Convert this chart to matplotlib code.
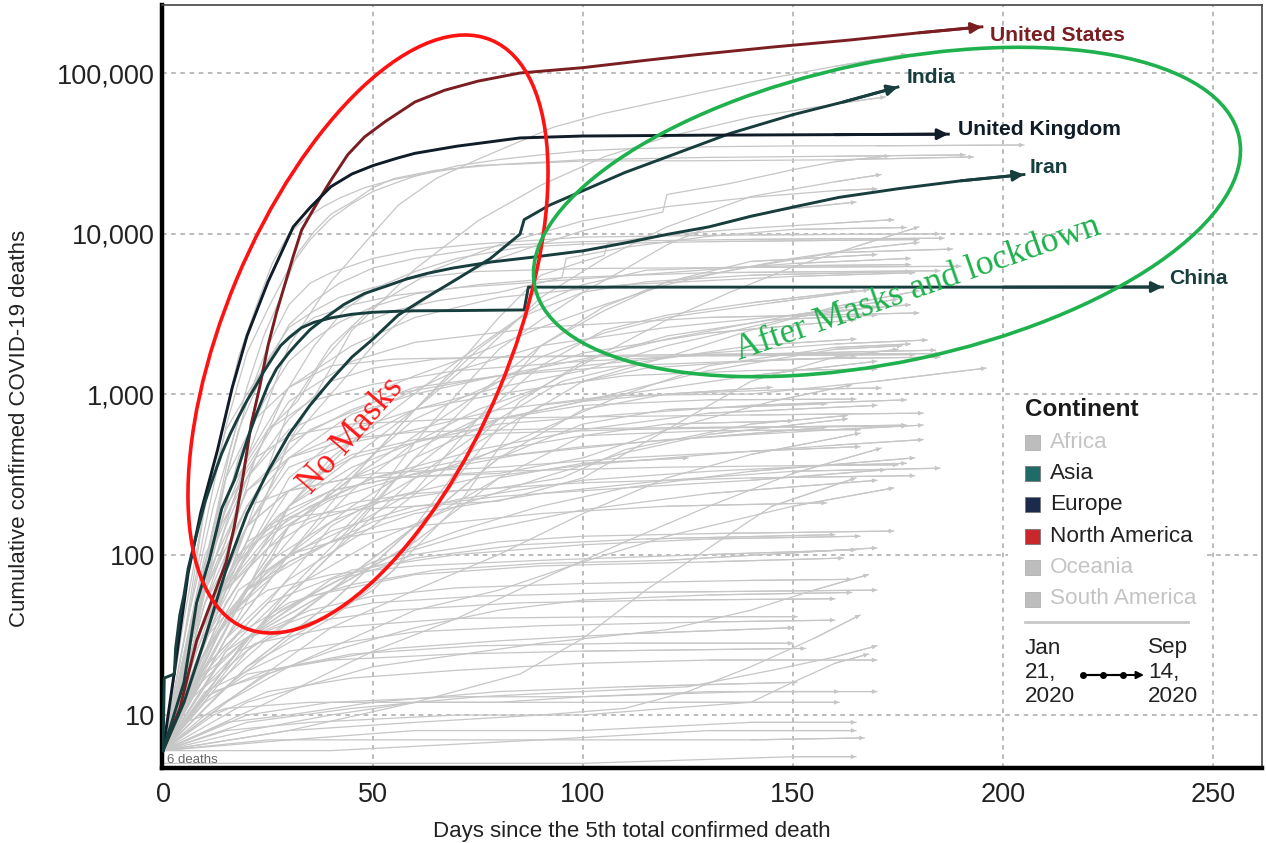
import matplotlib
matplotlib.use('Agg')
import matplotlib.pyplot as plt
from matplotlib.patches import Ellipse, Rectangle
from matplotlib.lines import Line2D
from matplotlib.ticker import FixedLocator, FuncFormatter, NullLocator

plt.rcParams['font.family'] = ['Liberation Sans', 'DejaVu Sans']

# ---- highlighted countries (day since 5th death, cumulative deaths) ----
us_days = [0, 4, 8, 12, 15, 17, 19, 21, 23, 25, 27, 29, 31, 33, 35, 37, 40, 44, 48, 53, 60, 67, 75, 85, 100, 115, 127, 145, 163, 180, 195]
us_vals = [6, 11, 29, 55, 89, 150, 300, 650, 1100, 2000, 3200, 4800, 7200, 10500, 13000, 16000, 21500, 31000, 40000, 50000, 66000, 78000, 89000, 100000, 108000, 120000, 130000, 145000, 160000, 178000, 194000]

uk_days = [0, 3, 6, 9, 13, 16.5, 20, 25, 31, 35, 40, 45, 50, 56, 60, 70, 85, 100, 130, 160, 187]
uk_vals = [6, 21, 77, 183, 450, 1100, 2300, 5000, 11000, 14500, 19600, 23500, 26500, 29600, 31600, 35000, 39400, 40500, 41000, 41300, 41600]

china_days = [0, 0.3, 2.7, 3, 4, 5, 6, 8, 10, 12, 14, 16, 18, 20, 22, 24, 26, 28, 30, 33, 36, 40, 45, 50, 55, 60, 70, 80, 86, 87, 120, 160, 200, 238]
china_vals = [6, 17, 18, 26, 42, 56, 82, 133, 213, 304, 427, 564, 723, 910, 1113, 1380, 1665, 2000, 2240, 2590, 2800, 2980, 3140, 3230, 3270, 3300, 3310, 3330, 3340, 4632, 4634, 4634, 4634, 4640]

iran_days = [0, 5, 8, 11, 14, 17, 20, 22, 25, 27, 30, 32, 35, 38, 43, 48, 53, 58, 63, 69, 78, 88, 100, 110, 120, 130, 140, 150, 161, 175, 190, 205]
iran_vals = [6, 16, 50, 92, 194, 291, 514, 724, 1135, 1433, 1812, 2077, 2517, 2898, 3603, 4232, 4683, 5209, 5650, 6091, 6640, 7119, 7797, 8730, 9870, 11000, 12800, 14600, 16800, 19000, 21300, 23300]

india_days = [0, 5, 10, 15, 20, 25, 30, 35, 40, 45, 50, 56, 62, 70, 78, 85, 86, 92, 99, 110, 120, 135, 150, 162, 175]
india_vals = [6, 12, 30, 80, 180, 330, 560, 850, 1220, 1700, 2200, 3100, 3900, 5200, 7000, 9900, 12200, 15000, 18000, 24000, 30000, 42000, 55000, 66000, 81800]

# ---- other countries (grey) ----
gray_series = [
    # larger epidemics
    [(0, 6), (10, 60), (20, 400), (30, 2000), (40, 5000), (50, 10000), (56, 15000), (65, 22000), (75, 29000), (93, 46000), (105, 56000), (120, 68000), (140, 88000), (160, 110000), (177, 131000)],
    [(0, 6), (15, 60), (30, 500), (45, 2500), (60, 6000), (75, 12000), (90, 20000), (105, 30000), (120, 40000), (140, 53000), (160, 64000), (172, 71000)],
    [(0, 6), (5, 29), (10, 148), (15, 631), (20, 1809), (25, 3405), (30, 6077), (35, 9134), (40, 12428), (45, 15362), (50, 18279), (55, 20465), (60, 22745), (70, 26384), (80, 28884), (90, 30911), (100, 32735), (110, 33689), (130, 34744), (150, 35123), (170, 35205), (205, 35600)],
    [(0, 6), (5, 40), (10, 200), (14, 600), (18, 1700), (22, 3400), (26, 6500), (30, 10000), (34, 12400), (38, 14600), (42, 16600), (48, 19300), (55, 21700), (65, 24300), (75, 26600), (85, 27100), (100, 28300), (130, 28400), (160, 28800), (193, 30000)],
    [(0, 6), (6, 30), (12, 150), (16, 450), (20, 1100), (24, 2300), (28, 4000), (32, 7500), (36, 10300), (40, 13200), (45, 15700), (50, 19300), (55, 22000), (65, 24800), (80, 26900), (100, 28800), (130, 29800), (160, 30300), (191, 30900)],
    [(0, 6), (10, 40), (20, 120), (30, 500), (40, 1000), (50, 2000), (60, 3500), (70, 5300), (80, 7000), (90, 8600), (100, 10400), (110, 12000), (119, 13600), (120, 17500), (135, 20500), (150, 25000), (160, 28000), (173, 30500)],
    [(0, 6), (15, 50), (30, 200), (45, 400), (60, 800), (75, 1700), (90, 4000), (105, 7000), (120, 11000), (140, 17000), (160, 21000), (171, 23300)],
    [(0, 6), (10, 30), (20, 150), (30, 800), (40, 2000), (50, 3500), (65, 6000), (80, 8500), (100, 12000), (120, 14700), (140, 16800), (160, 18500), (170, 19000)],
    [(0, 6), (10, 30), (20, 60), (30, 90), (40, 120), (50, 220), (60, 500), (70, 1000), (80, 1900), (90, 2900), (100, 4300), (110, 6000), (120, 8500), (130, 11000), (140, 13000), (150, 14300), (165, 15700)],
    [(0, 6), (15, 40), (30, 150), (45, 300), (60, 800), (70, 1500), (80, 3000), (90, 5500), (100, 6700), (105, 7300), (106, 8800), (120, 9800), (140, 10800), (160, 11600), (174, 12200)],
    [(0, 6), (15, 40), (30, 150), (45, 300), (60, 450), (75, 700), (90, 1100), (105, 1800), (120, 2900), (135, 4300), (150, 6200), (165, 8300), (180, 11000)],
    [(0, 6), (8, 40), (15, 300), (20, 900), (25, 2000), (30, 3600), (35, 4900), (40, 5700), (50, 7000), (60, 7900), (75, 8600), (100, 9500), (140, 9800), (185, 9950)],
    [(0, 6), (6, 30), (12, 150), (18, 600), (24, 1400), (30, 2700), (36, 3800), (42, 4900), (50, 6100), (60, 7000), (80, 8400), (100, 8900), (140, 9200), (186, 9350)],
    [(0, 6), (6, 40), (12, 200), (18, 700), (24, 1500), (30, 2600), (36, 3300), (42, 4000), (50, 4600), (60, 5300), (75, 5800), (100, 6050), (140, 6150), (190, 6250)],
    [(0, 6), (8, 20), (15, 100), (22, 400), (29, 1000), (36, 2000), (43, 3300), (50, 4500), (60, 5800), (70, 7000), (85, 8200), (100, 8600), (130, 8900), (180, 9170)],
    [(0, 6), (6, 20), (12, 100), (18, 400), (24, 900), (30, 1600), (36, 2200), (42, 2800), (50, 3500), (60, 4200), (75, 4800), (95, 5300), (130, 5700), (185, 5860)],
    [(0, 6), (5, 30), (10, 200), (15, 600), (20, 1000), (25, 1600), (30, 2300), (36, 3000), (45, 3600), (55, 4100), (70, 4600), (90, 5000), (120, 5700), (150, 6500), (178, 7000)],
    [(0, 6), (5, 20), (10, 60), (15, 150), (20, 300), (25, 600), (32, 900), (38, 1600), (45, 2600), (55, 3300), (65, 3800), (80, 4300), (95, 5300), (96, 7000), (110, 8200), (130, 9600), (150, 10600), (177, 10900)],
    [(0, 6), (10, 100), (20, 300), (30, 600), (45, 900), (60, 1300), (75, 1800), (90, 2600), (105, 3600), (120, 4800), (135, 5900), (150, 7000), (165, 8000), (180, 8800)],
    [(0, 6), (15, 30), (30, 100), (45, 300), (60, 800), (75, 1900), (90, 3700), (100, 4800), (115, 5900), (130, 6100), (150, 6300), (178, 6400)],
    [(0, 6), (15, 25), (30, 60), (45, 150), (60, 400), (75, 1000), (90, 2000), (105, 3300), (120, 5000), (140, 6700), (170, 7400)],
    [(0, 6), (10, 20), (20, 60), (30, 200), (40, 400), (55, 800), (70, 1600), (85, 3000), (100, 4300), (115, 5000), (140, 5500), (178, 5800)],
    [(0, 6), (10, 20), (20, 60), (30, 100), (45, 150), (60, 250), (75, 700), (90, 2000), (105, 3500), (120, 5000), (140, 6200), (160, 7600), (188, 8000)],
    # middle group
    [(0, 6), (15, 50), (30, 200), (45, 500), (60, 800), (80, 1100), (100, 1400), (120, 2000), (150, 3000), (170, 3500)],
    [(0, 6), (20, 30), (40, 60), (60, 150), (75, 500), (90, 850), (110, 980), (140, 1000), (170, 1200), (196, 1450)],
    [(0, 6), (10, 30), (20, 150), (30, 350), (45, 500), (60, 600), (80, 800), (110, 1000), (140, 1300), (170, 1600)],
    [(0, 6), (10, 60), (20, 200), (30, 400), (45, 600), (60, 800), (80, 1000), (100, 1200), (120, 1700), (140, 2500), (160, 3500), (180, 4400)],
    [(0, 6), (15, 40), (30, 100), (45, 200), (60, 350), (75, 700), (90, 1500), (105, 2500), (120, 3100), (140, 3700), (165, 4400)],
    [(0, 6), (10, 50), (20, 200), (30, 500), (45, 800), (60, 1100), (80, 1300), (100, 1650), (120, 2200), (150, 3100), (175, 3900)],
    [(0, 6), (15, 30), (30, 150), (45, 300), (60, 550), (75, 1000), (90, 1700), (105, 2400), (120, 3000), (145, 3700), (168, 4450)],
    [(0, 6), (10, 50), (20, 300), (30, 700), (40, 1200), (50, 1450), (65, 1650), (90, 1720), (130, 1770), (185, 1784)],
    [(0, 6), (8, 40), (16, 260), (25, 600), (35, 900), (50, 1150), (70, 1400), (100, 1600), (130, 1750), (184, 1875)],
    [(0, 6), (8, 50), (15, 300), (22, 700), (30, 1100), (40, 1500), (55, 1650), (80, 1700), (130, 1730), (179, 1760)],
    [(0, 6), (10, 40), (20, 150), (30, 400), (45, 750), (60, 1000), (80, 1300), (100, 1500), (130, 1800), (160, 2050), (182, 2170)],
    [(0, 6), (20, 20), (40, 40), (55, 80), (70, 300), (85, 900), (100, 1600), (120, 2300), (145, 2900), (170, 3100)],
    [(0, 6), (15, 30), (30, 70), (50, 150), (65, 300), (80, 700), (95, 1200), (115, 1600), (140, 2000), (165, 2200)],
    [(0, 6), (10, 40), (25, 150), (40, 250), (55, 300), (70, 350), (90, 600), (110, 1000), (130, 1500), (160, 1950), (178, 2050)],
    [(0, 6), (10, 50), (20, 150), (30, 250), (45, 400), (60, 500), (80, 700), (100, 900), (130, 1400), (160, 1900), (176, 2000)],
    [(0, 6), (10, 40), (20, 120), (30, 170), (45, 190), (60, 200), (80, 215), (100, 300), (120, 600), (140, 1200), (160, 1700), (175, 1900)],
    [(0, 6), (15, 15), (30, 30), (50, 60), (70, 200), (85, 700), (100, 1200), (115, 1450), (140, 1600), (165, 1700)],
    [(0, 6), (15, 30), (30, 100), (45, 250), (60, 500), (75, 800), (90, 1100), (110, 1300), (140, 1400), (170, 1430)],
    [(0, 6), (8, 50), (15, 200), (22, 400), (30, 550), (45, 650), (70, 700), (100, 720), (140, 740), (181, 760)],
    [(0, 6), (10, 60), (20, 250), (30, 400), (45, 530), (60, 580), (90, 605), (130, 620), (177, 630)],
    [(0, 6), (10, 30), (20, 100), (30, 250), (45, 420), (60, 520), (80, 570), (110, 600), (150, 625), (177, 640)],
    [(0, 6), (10, 30), (20, 80), (30, 150), (45, 210), (60, 240), (80, 260), (95, 300), (110, 450), (140, 650), (163, 735)],
    [(0, 6), (20, 20), (40, 50), (60, 150), (80, 400), (100, 800), (120, 1000), (145, 1100)],
    [(0, 6), (20, 25), (40, 60), (60, 120), (80, 300), (100, 550), (120, 650), (150, 680)],
    [(0, 6), (10, 20), (25, 50), (40, 150), (60, 300), (80, 700), (100, 900), (120, 1000), (150, 1070), (171, 1090)],
    [(0, 6), (20, 20), (40, 50), (60, 150), (80, 400), (100, 650), (120, 800), (158, 870)],
    [(0, 6), (20, 30), (40, 100), (60, 300), (80, 450), (100, 550), (130, 590), (166, 600)],
    [(0, 6), (10, 40), (20, 150), (30, 250), (45, 300), (60, 305), (80, 320), (100, 400), (120, 600), (145, 900), (164, 1140)],
    [(0, 6), (20, 30), (40, 100), (60, 400), (80, 700), (100, 850), (130, 920), (165, 930)],
    [(0, 6), (10, 60), (20, 200), (30, 250), (50, 320), (80, 350), (110, 400), (140, 440), (166, 470)],
    [(0, 6), (20, 30), (40, 60), (60, 150), (80, 300), (100, 370), (125, 400)],
    [(0, 6), (10, 70), (20, 250), (35, 600), (55, 1000), (80, 1300), (110, 1500), (150, 1650), (185, 1700)],
    [(0, 6), (20, 60), (40, 250), (60, 700), (80, 1200), (100, 1800), (130, 2400), (165, 2900)],
    [(0, 6), (15, 60), (30, 300), (50, 800), (70, 1400), (90, 2000), (120, 2600), (160, 3300), (178, 3600)],
    [(0, 6), (10, 80), (20, 350), (30, 900), (45, 1600), (60, 2100), (90, 2600), (130, 3000), (180, 3200)],
    [(0, 6), (10, 90), (20, 400), (30, 1100), (45, 2000), (60, 3000), (80, 4000), (110, 4800), (150, 5400), (179, 5700)],
    # smaller counts
    [(0, 6), (8, 20), (18, 60), (30, 100), (45, 130), (60, 150), (90, 180), (120, 200), (158, 210)],
    [(0, 6), (10, 25), (25, 80), (40, 140), (60, 200), (80, 230), (110, 260), (140, 290), (172, 337)],
    [(0, 6), (12, 15), (25, 30), (40, 60), (55, 100), (70, 140), (90, 200), (110, 260), (140, 330), (179, 400)],
    [(0, 6), (5, 12), (15, 40), (30, 90), (50, 160), (70, 220), (100, 290), (130, 330), (160, 360), (177, 370)],
    [(0, 6), (15, 12), (30, 20), (45, 30), (60, 45), (80, 60), (100, 90), (120, 130), (150, 200), (174, 260)],
    [(0, 6), (10, 18), (20, 30), (35, 45), (50, 55), (70, 62), (100, 66), (140, 69), (164, 70)],
    [(0, 6), (10, 10), (25, 18), (40, 25), (60, 35), (80, 45), (100, 52), (130, 56), (164, 58)],
    [(0, 6), (8, 15), (20, 30), (35, 42), (50, 50), (75, 55), (110, 58), (170, 60)],
    [(0, 6), (20, 8), (40, 10), (60, 12), (80, 12), (100, 13), (130, 14), (161, 14)],
    [(0, 6), (25, 7), (50, 7), (80, 7), (110, 7), (140, 7), (167, 7.2)],
    [(0, 6), (15, 9), (30, 10), (50, 12), (80, 14), (110, 15), (151, 16)],
    [(0, 6), (10, 12), (20, 18), (40, 22), (70, 24), (100, 25), (153, 26)],
    [(0, 6), (12, 14), (30, 20), (55, 26), (80, 29), (110, 32), (150, 35)],
    [(0, 6), (20, 9), (45, 11), (75, 13), (100, 14), (125, 15), (145, 19), (160, 23), (170, 27)],
    [(0, 6), (30, 8), (60, 9), (90, 10), (110, 11), (125, 14), (140, 20), (155, 30), (166, 42)],
    [(0, 6), (10, 20), (25, 50), (45, 80), (70, 100), (100, 115), (130, 125), (166, 130)],
    [(0, 6), (8, 20), (20, 60), (40, 120), (60, 180), (90, 240), (120, 290), (150, 330), (185, 345)],
    [(0, 6), (12, 30), (25, 90), (40, 160), (55, 230), (75, 300), (100, 360), (130, 420), (160, 480), (181, 520)],
    [(0, 6), (10, 40), (20, 110), (35, 200), (50, 300), (70, 380), (100, 470), (130, 540), (158, 620)],
    [(0, 6), (8, 30), (18, 90), (30, 200), (45, 350), (60, 500), (80, 650), (110, 750), (140, 850), (177, 920)],
    [(0, 6), (15, 20), (30, 60), (50, 120), (70, 200), (90, 300), (110, 430), (130, 560), (163, 700)],
    [(0, 6), (20, 15), (40, 35), (60, 60), (80, 100), (100, 180), (120, 300), (140, 420), (166, 570)],
    [(0, 6), (25, 12), (50, 25), (70, 40), (90, 70), (110, 120), (130, 200), (150, 320), (171, 460)],
    [(0, 6), (30, 8), (60, 12), (85, 18), (100, 30), (115, 60), (130, 110), (145, 200), (165, 300)],
    [(0, 6), (5, 15), (15, 40), (25, 60), (40, 75), (60, 85), (90, 92), (130, 100), (165, 107)],
    [(0, 6), (6, 12), (18, 25), (35, 38), (55, 45), (85, 50), (120, 52), (160, 53)],
    [(0, 6), (10, 15), (22, 28), (40, 35), (70, 40), (110, 41), (151, 41)],
    [(0, 6), (12, 10), (25, 14), (45, 17), (70, 19), (100, 21), (130, 22), (170, 22)],
    [(0, 6), (20, 10), (40, 12), (70, 13), (100, 13), (140, 14), (170, 14)],
    [(0, 6), (5, 9), (15, 11), (35, 12), (70, 12), (120, 12), (161, 12)],
    [(0, 6), (30, 7), (60, 8), (100, 8), (140, 9), (165, 9)],
    [(0, 6), (10, 13), (25, 19), (45, 24), (75, 27), (110, 28), (150, 28)],
    [(0, 6), (8, 16), (18, 32), (30, 50), (45, 65), (65, 80), (90, 88), (120, 92), (170, 110)],
    [(0, 6), (14, 22), (28, 45), (42, 70), (60, 95), (85, 115), (115, 125), (160, 133)],
    [(0, 6), (20, 30), (40, 70), (60, 100), (80, 120), (100, 130), (130, 135), (174, 140)],
    [(0, 6), (6, 20), (15, 60), (25, 110), (35, 160), (50, 210), (70, 250), (100, 280), (140, 300), (179, 310)],
    [(0, 6), (9, 35), (18, 100), (28, 180), (40, 250), (55, 300), (80, 330), (120, 350), (160, 360), (175, 362)],
    [(0, 6), (40, 6), (90, 7), (130, 8), (165, 8)],
    [(0, 5), (50, 5), (100, 5), (150, 5.5), (165, 5.5)],
    [(0, 6), (15, 8), (35, 9), (70, 10), (100, 10), (120, 11), (140, 12), (150, 16), (160, 21), (168, 24)],
    [(0, 6), (10, 14), (30, 25), (60, 33), (90, 36), (130, 38), (160, 39)],
    [(0, 6), (20, 12), (50, 20), (90, 28), (120, 34), (140, 45), (155, 60), (168, 75)],
    [(0, 6), (15, 25), (35, 55), (60, 75), (90, 85), (130, 90), (162, 95)],
    [(0, 6), (25, 40), (50, 90), (75, 140), (100, 190), (130, 240), (170, 290)],
    [(0, 6), (12, 50), (25, 130), (40, 220), (60, 320), (85, 420), (120, 520), (160, 600), (181, 640)],
    [(0, 6), (15, 60), (30, 170), (50, 300), (75, 450), (100, 600), (130, 760), (170, 850)],
]

continents = ['Africa', 'Asia', 'Europe', 'North America', 'Oceania', 'South America']
continent_colors = ['#bdbdbd', '#1f6b68', '#1c2b4c', '#c8282c', '#bdbdbd', '#bdbdbd']
continent_text = ['#c4c4c4', '#222222', '#222222', '#222222', '#c4c4c4', '#c4c4c4']

GRAY = '#c6c6c6'
ASIA = '#173d3d'
EUROPE = '#101c28'
NAMER = '#7a1e22'

fig = plt.figure(figsize=(12.66, 8.43), dpi=100)
ax = fig.add_axes([162 / 1266, 1 - 768 / 843, 1100 / 1266, 763 / 843])
ax.set_yscale('log')
ax.set_xlim(-0.24, 261.7)
ax.set_ylim(4.676, 265300)


def px(x, y):
    # figure pixel (origin top-left) -> inches for dpi_scale_trans
    return (x / 100, (843 - y) / 100)


T = fig.dpi_scale_trans

# grey countries
for s in gray_series:
    d = [p[0] for p in s]
    v = [p[1] for p in s]
    ax.plot(d, v, color=GRAY, lw=0.9, zorder=2, solid_joinstyle='round')
    ax.annotate('', xy=(d[-1], v[-1]), xytext=(d[-2], v[-2]),
                arrowprops=dict(arrowstyle='-|>', color=GRAY, lw=0.8,
                                mutation_scale=6, shrinkA=0, shrinkB=0), zorder=2)

# highlighted countries
hl = [
    (us_days, us_vals, NAMER, 'United States', (6, -6)),
    (india_days, india_vals, ASIA, 'India', (6, 7)),
    (uk_days, uk_vals, EUROPE, 'United Kingdom', (7, 3)),
    (iran_days, iran_vals, ASIA, 'Iran', (4, 5)),
    (china_days, china_vals, ASIA, 'China', (5, 6)),
]
for d, v, c, name, off in hl:
    ax.plot(d, v, color=c, lw=2.1, zorder=5)
    ax.annotate('', xy=(d[-1], v[-1]), xytext=(d[-2], v[-2]),
                arrowprops=dict(arrowstyle='-|>', color=c, lw=2.1,
                                mutation_scale=16, shrinkA=0, shrinkB=0), zorder=5)
    ax.annotate(name, xy=(d[-1], v[-1]), xytext=off, textcoords='offset points',
                ha='left', va='center', fontsize=15.2, fontweight='bold', color=c, zorder=8)

# axes styling
ax.yaxis.set_major_locator(FixedLocator([10, 100, 1000, 10000, 100000]))
ax.yaxis.set_minor_locator(NullLocator())
ax.yaxis.set_major_formatter(FuncFormatter(lambda val, pos: f'{int(round(val)):,}'))
ax.set_xticks([0, 50, 100, 150, 200, 250])
ax.tick_params(axis='both', length=0, labelsize=19.5, colors='#222222')
ax.tick_params(axis='y', pad=5)
ax.tick_params(axis='x', pad=10)
ax.grid(True, ls=(0, (3, 3)), color='#a8a8a8', lw=1.1)
ax.set_axisbelow(True)
for side in ['left', 'bottom']:
    ax.spines[side].set_linewidth(3.2)
    ax.spines[side].set_color('black')
for side in ['top', 'right']:
    ax.spines[side].set_linewidth(1.2)
    ax.spines[side].set_color('#444444')

fig.text(*px(20, 428), 'Cumulative confirmed COVID-19 deaths', transform=T, rotation=90,
         ha='center', va='center', fontsize=16, color='#222222')
fig.text(*px(632, 831), 'Days since the 5th total confirmed death', transform=T,
         ha='center', va='center', fontsize=16, color='#222222')
ax.text(*px(167, 760), '6 deaths', transform=T, ha='left', va='center',
        fontsize=9.5, color='#666666', zorder=6)

# ellipses and annotations
ax.add_patch(Ellipse(px(368, 334), 2 * 318.7 / 100, 2 * 142.3 / 100, angle=67.25,
                     transform=T, fill=False, ec='#ff1212', lw=2.6, zorder=7, clip_on=False))
ax.add_patch(Ellipse(px(887, 212), 2 * 360 / 100, 2 * 150 / 100, angle=12,
                     transform=T, fill=False, ec='#1fb14e', lw=2.6, zorder=7, clip_on=False))
fig.text(*px(351, 436), 'No Masks', transform=T, rotation=49, rotation_mode='anchor',
         ha='center', va='center', fontsize=25, family='Liberation Serif', color='#ff1a1a')
fig.text(*px(918, 289), 'After Masks and lockdown', transform=T, rotation=19.2,
         rotation_mode='anchor', ha='center', va='center', fontsize=25.5,
         family='Liberation Serif', color='#1fb14e')

# legend
ax.add_patch(Rectangle(px(1008, 712), 197 / 100, 315 / 100, transform=T,
                       fc='white', ec='none', zorder=6))
fig.text(*px(1025, 410), 'Continent', transform=T, ha='left', va='center',
         fontsize=17.5, fontweight='bold', color='#1a1a1a')
for i, (name, fc, tc) in enumerate(zip(continents, continent_colors, continent_text)):
    yy = 442 + i * 31.4
    fig.patches.append(Rectangle(px(1025, yy + 7.5), 0.15, 0.15, transform=T,
                                 fc=fc, ec='#777777' if tc != '#c4c4c4' else '#b0b0b0', lw=0.6))
    fig.text(*px(1050, yy), name, transform=T, ha='left', va='center',
             fontsize=16.2, color=tc)
fig.add_artist(Line2D([10.25, 11.88], [(843 - 622) / 100] * 2, transform=T,
                      color='#c8c8c8', lw=2))
for j, (a, b) in enumerate([('Jan', 'Sep'), ('21,', '14,'), ('2020', '2020')]):
    yy = 648 + j * 24.5
    fig.text(*px(1025, yy), a, transform=T, ha='left', va='center', fontsize=16.2, color='#222222')
    fig.text(*px(1148, yy), b, transform=T, ha='left', va='center', fontsize=16.2, color='#222222')
fig.add_artist(Line2D([1083 / 100, 1103 / 100, 1123 / 100], [(843 - 675) / 100] * 3,
                      transform=T, color='black', lw=1.5, marker='o', ms=4))
ax.annotate('', xy=px(1144, 675), xytext=px(1083, 675), xycoords=T, textcoords=T,
            arrowprops=dict(arrowstyle='-|>', color='black', lw=1.5, mutation_scale=11,
                            shrinkA=0, shrinkB=0), annotation_clip=False, zorder=9)

fig.savefig('out.png', dpi=100)
